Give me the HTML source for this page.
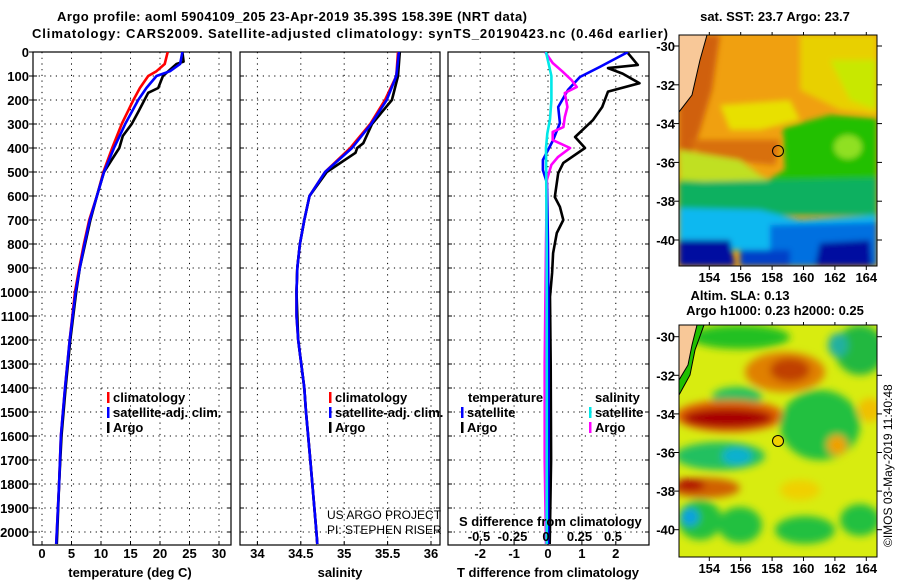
<!DOCTYPE html>
<html><head><meta charset="utf-8"><style>
body{margin:0;background:#fff;}
svg{display:block;font-family:"Liberation Sans",Arial,sans-serif;}
.b{font-weight:bold;font-size:13px;}
</style></head><body>
<svg id="c" width="900" height="580" viewBox="0 0 900 580">
<defs>
<clipPath id="m1"><rect x="679" y="35" width="198" height="231"/></clipPath>
<clipPath id="m2"><rect x="679" y="325" width="198" height="232"/></clipPath>
<clipPath id="p1"><rect x="33" y="52" width="198" height="493"/></clipPath>
<clipPath id="p2"><rect x="240" y="52" width="200" height="493"/></clipPath>
<clipPath id="p3"><rect x="448" y="52" width="201" height="493"/></clipPath>
<filter id="bl" x="-20%" y="-20%" width="140%" height="140%"><feGaussianBlur stdDeviation="4"/></filter>
<filter id="bl2" x="-20%" y="-20%" width="140%" height="140%"><feGaussianBlur stdDeviation="3"/></filter>
</defs>
<text x="292" y="21" class="b" font-size="14" text-anchor="middle" textLength="470">Argo profile: aoml 5904109_205 23-Apr-2019 35.39S 158.39E (NRT data)</text>
<text x="350" y="38" class="b" font-size="14" text-anchor="middle" textLength="636">Climatology: CARS2009. Satellite-adjusted climatology: synTS_20190423.nc (0.46d earlier)</text>

<g>
<g clip-path="url(#m1)">
<rect x="679" y="35" width="198" height="231" fill="#f0a010"/>
<g filter="url(#bl2)">
<polygon points="800,35 877,35 877,115 840,110 800,90" fill="#e8d000"/>
<polygon points="830,60 877,60 877,110 850,100" fill="#c8e800"/>
<polygon points="679,35 720,35 712,90 700,130 690,160 679,160" fill="#d06008"/>
<polygon points="720,105 790,100 800,120 760,130 730,130" fill="#e8e000"/>
<polygon points="690,140 780,140 775,165 700,158" fill="#d87010"/>
<polygon points="679,150 740,160 760,175 780,185 680,190" fill="#c0e020"/>
<polygon points="783,128 830,115 877,118 877,200 679,200 679,180 760,185 785,170" fill="#20c000"/>
<ellipse cx="848" cy="147" rx="14" ry="12" fill="#90e020"/>
<polygon points="679,182 877,178 877,215 679,215" fill="#10b060"/>
<polygon points="679,208 760,210 800,220 877,215 877,250 679,250" fill="#10b8f0"/>
<polygon points="770,225 877,222 877,266 770,266" fill="#0070e0"/>
<polygon points="679,240 730,240 735,266 679,266" fill="#0010a0"/>
<polygon points="820,243 870,240 872,266 815,266" fill="#0010a0"/>
<polygon points="740,250 790,250 790,266 740,266" fill="#0040c8"/>
</g>
<polygon points="679,35 707,35 700,60 692,95 679,112" fill="#f8c898" stroke="#000"/>
</g>
<circle cx="778" cy="151" r="5.5" fill="none" stroke="#000"/>
<rect x="679" y="35" width="198" height="231" fill="none" stroke="#000"/>
</g>

<g>
<g clip-path="url(#m2)">
<rect x="679" y="325" width="198" height="232" fill="#d8ec10"/>
<g filter="url(#bl)">
<ellipse cx="740" cy="337" rx="50" ry="12" fill="#20c020"/>
<ellipse cx="860" cy="350" rx="25" ry="25" fill="#20b840"/>
<ellipse cx="838" cy="345" rx="10" ry="12" fill="#20b0a0"/>
<ellipse cx="785" cy="372" rx="40" ry="20" fill="#e08000"/>
<ellipse cx="790" cy="370" rx="20" ry="12" fill="#c04000"/>
<ellipse cx="737" cy="397" rx="25" ry="10" fill="#20c060"/>
<ellipse cx="730" cy="416" rx="55" ry="16" fill="#e06000"/>
<ellipse cx="728" cy="418" rx="45" ry="10" fill="#a80000"/>
<ellipse cx="820" cy="425" rx="40" ry="35" fill="#20c040"/>
<ellipse cx="837" cy="445" rx="10" ry="10" fill="#f0a000"/>
<ellipse cx="870" cy="410" rx="12" ry="12" fill="#f0c000"/>
<ellipse cx="720" cy="456" rx="45" ry="14" fill="#20c060"/>
<ellipse cx="737" cy="456" rx="15" ry="9" fill="#10b0d0"/>
<ellipse cx="705" cy="488" rx="35" ry="10" fill="#d06000"/>
<ellipse cx="690" cy="485" rx="15" ry="6" fill="#b00000"/>
<ellipse cx="700" cy="520" rx="22" ry="20" fill="#20c040"/>
<ellipse cx="690" cy="517" rx="9" ry="9" fill="#10a0e0"/>
<ellipse cx="740" cy="525" rx="22" ry="18" fill="#20c040"/>
<ellipse cx="805" cy="530" rx="30" ry="14" fill="#20c040"/>
<ellipse cx="860" cy="520" rx="20" ry="16" fill="#20c040"/>
<ellipse cx="800" cy="490" rx="20" ry="10" fill="#f0d000"/>
</g>
<polygon points="679,325 704,325 695,350 690,375 679,395" fill="#20c000" stroke="#000"/>
<polygon points="679,325 697,325 692,345 688,365 679,380" fill="#f8c898" stroke="#000"/>
</g>
<circle cx="778" cy="441" r="5.5" fill="#f0d000" stroke="#000"/>
<rect x="679" y="325" width="198" height="232" fill="none" stroke="#000"/>
</g>

<text x="775" y="21" class="b" text-anchor="middle">sat. SST: 23.7 Argo: 23.7</text>
<text x="740" y="300" class="b" text-anchor="middle">Altim. SLA: 0.13</text>
<text x="775" y="315" class="b" text-anchor="middle">Argo h1000: 0.23 h2000: 0.25</text>
<text transform="translate(892,547) rotate(-90)" font-size="12">©IMOS 03-May-2019 11:40:48</text>
<g id="g"></g>
</svg>
<script>
// ---- data ----
const depthTicks=[0,100,200,300,400,500,600,700,800,900,1000,1100,1200,1300,1400,1500,1600,1700,1800,1900,2000];
const tTicks=[0,5,10,15,20,25,30];
const sTicks=[34,34.5,35,35.5,36];
const dTTicks=[-2,-1,0,1,2];
const dSTicks=[-0.5,-0.25,0,0.25,0.5];
const dSLabels=['-0.5','-0.25','0','0.25','0.5'];
const lonTicks=[154,156,158,160,162,164];
const latTicks=[-30,-32,-34,-36,-38,-40];

const tDepth=[0,50,80,100,150,200,300,400,500,600,700,800,900,1000,1200,1400,1600,1800,2000,2050];
const tClim=[21.3,20.8,19.4,18,16.6,15.5,13.5,11.9,10.4,9.3,8,7.1,6.3,5.6,4.7,3.9,3.2,2.9,2.5,2.4];
const tSat=[23.8,23.4,21.7,19.4,17.7,16.3,14.1,12.2,10.5,9.3,8.1,7.2,6.4,5.7,4.7,3.9,3.2,2.9,2.5,2.4];
const argoTDepth=[0,40,50,100,150,170,250,300,350,400,450,500,600,700,800,900,1000,1200,1400,1600,1800,2000,2050];
const argoT=[23.8,24,22.8,20.5,19.7,18,16.3,15.2,13.7,13.1,11.8,10.5,9.3,8.2,7.3,6.4,5.8,4.8,4.0,3.3,2.9,2.6,2.5];

const sDepth=[0,100,200,300,400,500,600,700,800,900,1000,1100,1200,1400,1500,1700,2000,2050];
const sClim=[35.62,35.6,35.47,35.3,35.07,34.78,34.6,34.54,34.49,34.46,34.45,34.45,34.47,34.54,34.56,34.61,34.68,34.69];
const sSat=[35.63,35.6,35.49,35.31,35.09,34.78,34.6,34.54,34.49,34.46,34.45,34.45,34.47,34.54,34.56,34.61,34.68,34.69];
const argoSDepth=[0,100,200,300,380,400,420,500,600,700,800,900,1000,1200,1400,1500,1700,2000,2050];
const argoS=[35.64,35.62,35.55,35.32,35.22,35.15,35.13,34.8,34.6,34.54,34.49,34.46,34.45,34.47,34.54,34.56,34.61,34.68,34.69];

const dDepth=[5,54,67,90,130,165,229,283,354,400,462,505,604,645,700,754,838,921,1020,1300,1700,2050];
const dTArgo=[2.36,2.65,1.77,2.2,2.7,1.77,1.6,1.33,0.8,1.09,0.45,0.3,0.2,0.35,0.45,0.26,0.15,0.12,0.06,0.08,0.09,0.05];
const dSatDepth=[0,33,62,104,158,229,296,367,450,492,546,800,1200,1600,2050];
const dTSat=[2.36,1.92,1.53,0.94,0.59,0.3,0.35,0.15,-0.15,-0.15,-0.03,0.0,0.02,0.02,0.0];
const dSDepth=[0,46,80,117,146,171,229,271,313,333,367,400,437,470,533,800,1300,1700,2050];
const dSArgo=[-0.007,0.05,0.12,0.19,0.23,0.14,0.16,0.14,0.13,0.05,0.05,0.18,0.09,0.04,0.007,0.0,-0.01,-0.01,0.0];
const dSSatDepth=[0,100,200,280,340,400,800,1400,2050];
const dSSat=[0,0.04,0.04,0.03,0.01,0,0.005,0.006,0.005];

// ---- scales ----
const yD=d=>52+d*0.24;
const xT=v=>42+v*5.9;
const xS=v=>257.4+(v-34)*86.8;
const xDT=v=>548+v*33.9;
const xDS=v=>546+v*134;
const mLon=v=>709.3+(v-154)*15.7;
const m1Lat=v=>46+(-30-v)*19.4;
const m2Lat=v=>336.7+(-30-v)*19.3;

const NS='http://www.w3.org/2000/svg';
const G=document.getElementById('g');
function mk(tag,attrs,parent){const e=document.createElementNS(NS,tag);for(const k in attrs)e.setAttribute(k,attrs[k]);(parent||G).appendChild(e);return e;}
function txt(x,y,s,anchor,extra){const e=mk('text',Object.assign({x:x,y:y,'text-anchor':anchor||'middle','class':'b'},extra||{}));e.textContent=s;return e;}

const panels=[
 {x0:33,x1:231,clip:'p1',xs:xT,ticks:tTicks,name:'temperature-panel'},
 {x0:240,x1:440,clip:'p2',xs:xS,ticks:sTicks,name:'salinity-panel'},
 {x0:448,x1:649,clip:'p3',xs:xDT,ticks:dTTicks,name:'difference-panel'}];
panels.forEach(p=>{
 const g=mk('g',{});
 
 
 depthTicks.forEach(d=>{const l=mk('line',{x1:p.x0,x2:p.x1,y1:yD(d),y2:yD(d),stroke:'#000','stroke-dasharray':'1.2,4.5'},g);
  
  
  mk('line',{x1:p.x1-4,x2:p.x1,y1:yD(d),y2:yD(d),stroke:'#000'},g);
  mk('line',{x1:p.x0,x2:p.x0+4,y1:yD(d),y2:yD(d),stroke:'#000'},g);});
 p.ticks.forEach(t=>{const l=mk('line',{x1:p.xs(t),x2:p.xs(t),y1:52,y2:545,stroke:'#000','stroke-dasharray':'1.2,4.5'},g);
  
  
  mk('line',{x1:p.xs(t),x2:p.xs(t),y1:545,y2:541,stroke:'#000'},g);
  const lb=txt(p.xs(t),558,String(t));
  
  });
 mk('rect',{x:p.x0,y:52,width:p.x1-p.x0,height:493,fill:'none',stroke:'#000','stroke-width':1.2},g);
});
depthTicks.forEach(d=>{const e=txt(29,yD(d)+5,String(d),'end');
 
 
 mk('line',{x1:29,x2:33,y1:yD(d),y2:yD(d),stroke:'#000'});});
const xt1=txt(130,577,'temperature (deg C)');
const xt2=txt(340,577,'salinity');
const xt3=txt(548,577,'T difference from climatology');

function line(ds,vals,fx,color,clip,name,w){
 const pts=vals.map((v,i)=>fx(v).toFixed(1)+','+yD(ds[i]).toFixed(1)).join(' ');
 const e=mk('polyline',{points:pts,fill:'none',stroke:color,'stroke-width':w||2.6,'clip-path':'url(#'+clip+')','stroke-linejoin':'round'});
 
 
}
line(tDepth,tClim,xT,'#ff0000','p1','temperature-climatology-line');
line(argoTDepth,argoT,xT,'#000000','p1','temperature-argo-line');
line(tDepth,tSat,xT,'#0000ff','p1','temperature-satellite-line');
line(sDepth,sClim,xS,'#ff0000','p2','salinity-climatology-line');
line(argoSDepth,argoS,xS,'#000000','p2','salinity-argo-line');
line(sDepth,sSat,xS,'#0000ff','p2','salinity-satellite-line');
line(dDepth,dTArgo,xDT,'#000000','p3','t-diff-argo-line');
line(dSatDepth,dTSat,xDT,'#0000ff','p3','t-diff-satellite-line');
line(dSDepth,dSArgo,xDS,'#ff00ff','p3','s-diff-argo-line');
line(dSSatDepth,dSSat,xDS,'#00e8e8','p3','s-diff-satellite-line');

dSTicks.forEach((t,i)=>{const e=txt(xDS(t),541,dSLabels[i]);
 
 });
const sdl=txt(459,526,'S difference from climatology','start');

function leg(x,y,c,s,name){const r=mk('rect',{x:x,y:y-10,width:2.5,height:11,fill:c});
 
 const t=txt(x+6,y,s,'start');}
leg(107,402,'#ff0000','climatology','legend-climatology');
leg(107,417,'#0000ff','satellite-adj. clim.','legend-satellite');
leg(107,432,'#000','Argo','legend-argo');
leg(329,402,'#ff0000','climatology','legend-s-climatology');
leg(329,417,'#0000ff','satellite-adj. clim.','legend-s-satellite');
leg(329,432,'#000','Argo','legend-s-argo');
const lt=txt(468,402,'temperature','start');
leg(461,417,'#0000ff','satellite','legend-t-satellite');
leg(461,432,'#000','Argo','legend-t-argo');
const ls=txt(595,402,'salinity','start');
leg(589,417,'#00e8e8','satellite','legend-s-sat-diff');
leg(589,432,'#ff00ff','Argo','legend-s-argo-diff');
[['US ARGO PROJECT',519],['PI: STEPHEN RISER',534]].forEach(a=>{const e=mk('text',{x:327,y:a[1],'font-size':12});e.textContent=a[0];
 });

// map ticks
[[m1Lat,35,266],[m2Lat,325,557]].forEach((m,mi)=>{
 latTicks.forEach(v=>{const y=m[0](v);
  mk('line',{x1:877,x2:882,y1:y,y2:y,stroke:'#000'});
  mk('line',{x1:674,x2:679,y1:y,y2:y,stroke:'#000'});
  const e=txt(675,y+5,String(v),'end');
  
  });
 lonTicks.forEach(v=>{const x=mLon(v);mk('line',{x1:x,x2:x,y1:m[2],y2:m[2]+4,stroke:'#000'});mk('line',{x1:x,x2:x,y1:m[1],y2:m[1]-3,stroke:'#000'});
  const e=txt(x,m[2]+16,String(v));
  
  });
});
</script>
</body></html>
